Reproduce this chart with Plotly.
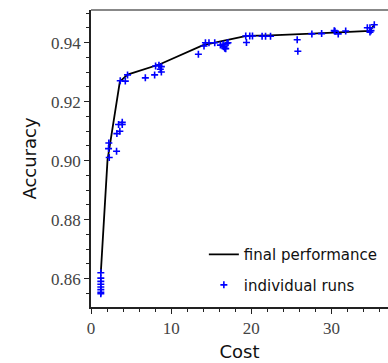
import plotly.graph_objects as go

# final performance curve
line_cost = [1.225, 2.06, 3.6, 4.56, 8.6, 13.98, 19.4, 22.4, 27.56, 34.8, 35.35]
line_acc = [0.8620, 0.9002, 0.9268, 0.9292, 0.9327, 0.9392, 0.9423, 0.9425, 0.9431, 0.9440, 0.9461]

# individual runs
run_cost = [1.225, 1.225, 1.225, 1.225, 1.225, 1.225, 1.225, 1.225,
            2.225, 2.19, 3.19, 2.275,
            3.44, 3.9, 3.6, 3.23, 3.9,
            3.65, 4.28, 4.56, 6.78, 7.94,
            8.06, 8.48, 8.78, 8.65, 8.78,
            13.4, 14.1, 14.28, 14.72, 15.44,
            16.15, 16.56, 16.81, 16.69, 16.97, 17.1, 16.48,
            19.31, 19.81, 20.15, 19.4,
            21.35, 21.78, 22.4,
            25.73, 25.81, 27.56, 28.78,
            30.35, 30.44, 30.85, 31.78,
            34.48, 34.81, 34.94, 34.81, 35.35]
run_acc = [0.8620, 0.8602, 0.8591, 0.8581, 0.8572, 0.8563, 0.8554, 0.8549,
           0.9060, 0.9041, 0.9032, 0.9011,
           0.9123, 0.9130, 0.9100, 0.9092, 0.9123,
           0.9271, 0.9270, 0.9291, 0.9281, 0.9291,
           0.9321, 0.9324, 0.9319, 0.9310, 0.9301,
           0.9361, 0.9389, 0.9400, 0.9400, 0.9400,
           0.9392, 0.9386, 0.9380, 0.9381, 0.9398, 0.9400, 0.9395,
           0.9423, 0.9423, 0.9423, 0.9401,
           0.9422, 0.9422, 0.9422,
           0.9410, 0.9371, 0.9430, 0.9431,
           0.9441, 0.9439, 0.9430, 0.9440,
           0.9451, 0.9451, 0.9441, 0.9436, 0.9461]

x_range = [0, 37.06]
y_range = [0.8504, 0.9511]

SANS = "DejaVu Sans"
SERIF = "Liberation Serif, DejaVu Serif, serif"

fig = go.Figure()
fig.add_trace(go.Scatter(
    x=line_cost, y=line_acc, mode="lines", name="final performance",
    line=dict(color="black", width=1.8), legendgroup="a"))
fig.add_trace(go.Scatter(
    x=run_cost, y=run_acc, mode="markers", name="individual runs",
    marker=dict(symbol="cross-thin", size=5, color="blue",
                line=dict(width=1.6, color="blue")), legendgroup="b"))

fig.update_layout(
    width=388, height=363,
    margin=dict(l=91, r=0, t=10, b=56),
    plot_bgcolor="white", paper_bgcolor="white",
    font=dict(family=SERIF, size=17, color="#444444"),
    showlegend=True,
    legend=dict(x=0.38, y=0.232, xanchor="left", yanchor="top",
                bgcolor="rgba(0,0,0,0)", font=dict(size=15, family=SANS, color="#111111"),
                tracegroupgap=8, traceorder="grouped"),
    shapes=[dict(type="line", xref="paper", yref="paper", x0=0, x1=1, y0=1, y1=1,
                 line=dict(color="#888888", width=2))],
)
for ax in (fig.update_xaxes, fig.update_yaxes):
    ax(showgrid=False, zeroline=False, showline=True,
       linecolor="#222222", linewidth=1.5,
       ticks="outside", ticklen=5, tickwidth=1, tickcolor="#222222",
       tickfont=dict(family=SERIF, size=17, color="#444444"))
fig.update_xaxes(range=x_range, dtick=10, tick0=0,
                 title=dict(text="Cost", font=dict(size=18, family=SANS, color="#111111"), standoff=8),
                 minor=dict(dtick=2, ticks="outside", ticklen=3, tickcolor="#222222"))
fig.update_yaxes(range=y_range, dtick=0.02, tick0=0, tickformat=".2f",
                 title=dict(text="Accuracy", font=dict(size=18, family=SANS, color="#111111"), standoff=10),
                 minor=dict(dtick=0.005, ticks="outside", ticklen=3, tickcolor="#222222"))

fig.write_html("out.html")
